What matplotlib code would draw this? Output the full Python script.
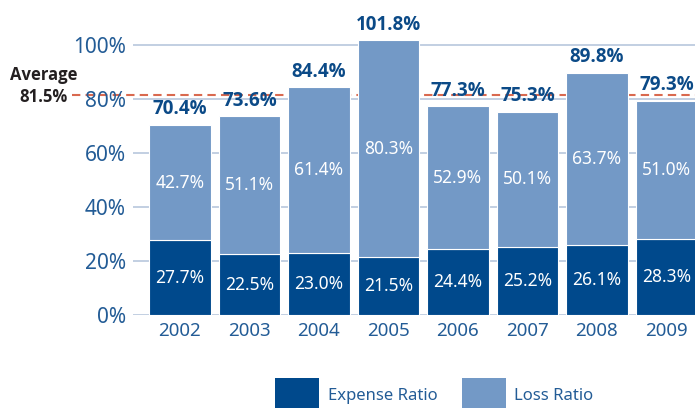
import matplotlib
matplotlib.use("Agg")
import matplotlib.pyplot as plt
from matplotlib.patches import Rectangle

plt.rcParams["font.family"] = ["Noto Sans", "DejaVu Sans"]
BOLD_FAMILY = ["Open Sans", "DejaVu Sans"]

years = ["2002", "2003", "2004", "2005", "2006", "2007", "2008", "2009"]
expense = [27.7, 22.5, 23.0, 21.5, 24.4, 25.2, 26.1, 28.3]
loss = [42.7, 51.1, 61.4, 80.3, 52.9, 50.1, 63.7, 51.0]
totals = [70.4, 73.6, 84.4, 101.8, 77.3, 75.3, 89.8, 79.3]
average = 81.5
yticks = [0, 20, 40, 60, 80, 100]
series_names = ["Expense Ratio", "Loss Ratio"]

DARK = "#00498c"
LIGHT = "#7399c6"
TEXT_BLUE = "#235c96"
GRID = "#b8c7dd"
AVG_RED = "#d9694f"

W, H = 695, 408
fig = plt.figure(figsize=(W / 100, H / 100), dpi=100)
ax = fig.add_axes([133 / W, 93 / H, 562 / W, 297 / H])

x = list(range(len(years)))
w = 0.885
ax.bar(x, expense, width=w, color=DARK, edgecolor="white", linewidth=0.8, zorder=2)
ax.bar(x, loss, width=w, bottom=expense, color=LIGHT, edgecolor="white",
       linewidth=0.8, zorder=2)

for i in x:
    ax.text(i, expense[i] / 2, f"{expense[i]:.1f}%", ha="center", va="center",
            color="white", fontsize=12.5, zorder=4)
    ax.text(i, expense[i] + loss[i] / 2, f"{loss[i]:.1f}%", ha="center", va="center",
            color="white", fontsize=12.5, zorder=4)
    ax.annotate(f"{totals[i]:.1f}%", (i, expense[i] + loss[i]), xytext=(0, 4),
                textcoords="offset points", ha="center", va="bottom",
                color="#0b4a87", fontsize=13.5, fontweight="bold",
                family=BOLD_FAMILY, zorder=4)

# average line, runs out into the label area on the left
ax.plot([-0.1085, 1.0], [average, average], transform=ax.get_yaxis_transform(),
        color=AVG_RED, lw=1.5, dashes=(4, 2.5), clip_on=False, zorder=1.5)
fig.text(44 / W, 1 - 86 / H, f"Average\n{average}%", ha="center", va="center",
         multialignment="center", fontsize=12, fontweight="bold",
         family=BOLD_FAMILY, color="#231f20", linespacing=1.3)

ax.set_xlim(-0.675, 7.41)
ax.set_ylim(0, 110)
ax.set_yticks(yticks)
ax.set_yticklabels([f"{v}%" for v in yticks])
ax.set_xticks(x)
ax.set_xticklabels(years)
ax.tick_params(axis="y", length=0, pad=5, labelsize=15, labelcolor=TEXT_BLUE)
ax.tick_params(axis="x", length=0, pad=5, labelsize=13.5, labelcolor=TEXT_BLUE)
for v in yticks:
    ax.axhline(v, color=GRID, lw=1.2, zorder=0)
for s in ax.spines.values():
    s.set_visible(False)

# legend: big swatches running off the bottom edge
for (sx, tx), name, col in zip([(275, 328), (462, 514)], series_names, [DARK, LIGHT]):
    fig.patches.append(Rectangle((sx / W, 1 - 414 / H), 44 / W, 36 / H,
                                 transform=fig.transFigure, facecolor=col,
                                 edgecolor="none"))
    fig.text(tx / W, 1 - 396 / H, name, ha="left", va="center",
             fontsize=12, color=TEXT_BLUE)

fig.savefig("out.png", dpi=100)
